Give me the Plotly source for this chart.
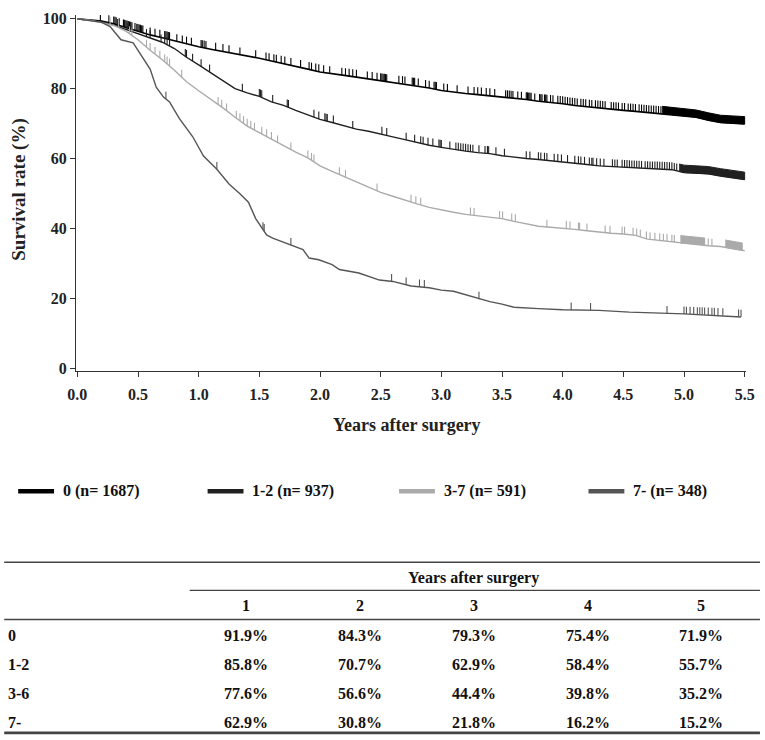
import numpy as np
import plotly.graph_objects as go

# ---------------- data ----------------
group_names = ["0 (n= 1687)", "1-2 (n= 937)", "3-7 (n= 591)", "7- (n= 348)"]
group_colors = ["#000000", "#202020", "#aaaaaa", "#555555"]

t0 = [0, 0.1, 0.2, 0.3, 0.4, 0.5, 0.6, 0.7, 0.8, 0.9, 1.0, 1.1, 1.2, 1.3, 1.4, 1.5, 1.6, 1.7, 1.8, 1.9,
      2.0, 2.1, 2.2, 2.3, 2.4, 2.5, 2.6, 2.7, 2.8, 2.9, 3.0, 3.1, 3.2, 3.3, 3.4, 3.5, 3.6, 3.7, 3.8, 3.9,
      4.0, 4.1, 4.2, 4.3, 4.4, 4.5, 4.6, 4.7, 4.8, 4.9, 5.0, 5.1, 5.2, 5.3, 5.4, 5.5]
s0 = [100, 99.8, 99.4, 98.6, 97.5, 96.4, 95.4, 94.6, 93.7, 92.8, 92.0, 91.3, 90.7, 90.0, 89.3, 88.7, 87.9,
      87.2, 86.4, 85.6, 84.8, 84.2, 83.8, 83.3, 82.8, 82.3, 81.8, 81.4, 80.9, 80.2, 79.5, 79.0, 78.6, 78.3,
      78.0, 77.6, 77.2, 76.9, 76.4, 76.1, 75.7, 75.2, 74.8, 74.5, 74.1, 73.8, 73.5, 73.2, 72.9, 72.6, 72.2,
      71.8, 71.0, 70.3, 70.1, 69.9]

t1 = t0
s1 = [100, 99.7, 99.2, 98.2, 97.0, 95.8, 94.6, 93.3, 91.5, 89.0, 86.8, 84.6, 82.3, 80.0, 78.8, 77.8, 76.2,
      75.2, 73.8, 72.6, 71.2, 70.3, 69.3, 68.4, 67.8, 67.1, 66.2, 65.4, 64.5, 63.8, 63.2, 62.6, 62.1, 61.7,
      61.4, 60.8, 60.3, 60.0, 59.7, 59.4, 59.0, 58.7, 58.3, 57.9, 57.7, 57.5, 57.3, 57.1, 57.0, 56.8, 56.0,
      55.8, 55.6, 55.0, 54.5, 54.0]

t2 = t0
s2 = [100, 99.6, 98.9, 98.1, 96.5, 94.0, 91.0, 88.3, 85.3, 82.0, 79.4, 77.0, 74.5, 71.8, 69.3, 67.4, 65.5,
      63.5, 61.8, 60.2, 57.9, 56.3, 54.8, 53.3, 51.8, 50.3, 49.2, 48.0, 47.0, 46.0, 45.2, 44.6, 44.0, 43.6,
      43.2, 42.8, 42.0, 41.2, 40.6, 40.3, 40.1, 39.7, 39.3, 38.9, 38.6, 38.4, 38.0, 36.9, 36.5, 36.1, 35.7,
      35.5, 35.0, 34.8, 34.2, 33.6]

t3 = [0, 0.1, 0.2, 0.27, 0.36, 0.46, 0.52, 0.6, 0.65, 0.71, 0.76, 0.84, 0.95, 1.04, 1.15, 1.25, 1.34, 1.41,
      1.47, 1.56, 1.61, 1.75, 1.86, 1.91, 1.99, 2.1, 2.16, 2.32, 2.43, 2.49, 2.6, 2.75, 2.9, 3.0, 3.1, 3.2,
      3.3, 3.4, 3.5, 3.6, 3.8, 4.0, 4.3, 4.55, 5.0, 5.34, 5.47]
s3 = [100, 99.6, 99.0, 97.8, 94.0, 93.1, 89.8, 85.6, 80.4, 77.6, 76.2, 71.5, 66.3, 60.7, 56.9, 52.7, 49.9,
      47.5, 42.8, 38.1, 37.2, 35.3, 33.9, 31.5, 31.0, 29.6, 28.2, 27.2, 25.9, 25.2, 24.8, 23.5, 23.0, 22.3,
      22.0, 21.0, 19.8, 19.0, 18.3, 17.4, 17.0, 16.7, 16.5, 16.0, 15.5, 15.0, 14.6]

# censoring times
c0 = [0.19, 0.26, 0.30, 0.31, 0.32, 0.345, 0.38, 0.39, 0.40, 0.41, 0.42, 0.43, 0.44, 0.45, 0.475, 0.49, 0.50,
      0.51, 0.52, 0.53, 0.54, 0.60, 0.64, 0.68, 0.72, 0.73, 0.74, 0.75, 0.76, 0.82, 0.865, 0.90, 0.94, 1.02,
      1.03, 1.045, 1.06, 1.14, 1.20, 1.25, 1.34, 1.47, 1.555, 1.58, 1.62, 1.64, 1.68, 1.71, 1.76, 1.84, 1.91,
      1.93, 1.965, 1.99, 2.03, 2.08, 2.18, 2.21, 2.24, 2.27, 2.30, 2.39, 2.43, 2.47, 2.50, 2.51, 2.52, 2.53,
      2.54, 2.55, 2.65, 2.68, 2.70, 2.76, 2.77, 2.78, 2.81, 2.87, 2.90, 2.94, 2.95, 2.96, 3.02, 3.05, 3.13,
      3.22, 3.27, 3.30, 3.33, 3.37, 3.40, 3.44, 3.53, 3.545, 3.56, 3.575, 3.59, 3.63, 3.66, 3.70, 3.71, 3.72,
      3.73, 3.74, 3.77, 3.81, 3.82, 3.83, 3.85, 3.86, 3.87, 3.90, 3.92, 3.96, 3.98, 4.00, 4.02, 4.04, 4.06,
      4.08, 4.10, 4.12, 4.15, 4.17, 4.19, 4.22, 4.24, 4.27, 4.29, 4.31, 4.33, 4.35, 4.40, 4.42, 4.44, 4.46,
      4.49, 4.51, 4.54, 4.56, 4.58, 4.60, 4.63, 4.65, 4.67, 4.69, 4.71, 4.73, 4.75, 4.77, 4.79, 4.81]
c1 = [0.33, 0.41, 0.57, 0.60, 0.69, 0.72, 0.74, 0.76, 0.89, 0.90, 0.95, 1.02, 1.09, 1.36, 1.50, 1.51, 1.52,
      1.61, 1.73, 1.74, 1.95, 1.99, 2.04, 2.05, 2.06, 2.11, 2.27, 2.51, 2.55, 2.71, 2.78, 2.83, 2.85, 2.89,
      2.93, 2.98, 2.99, 3.00, 3.07, 3.12, 3.14, 3.16, 3.18, 3.20, 3.22, 3.24, 3.26, 3.31, 3.36, 3.38, 3.39,
      3.45, 3.52, 3.70, 3.73, 3.80, 3.82, 3.85, 3.87, 3.93, 3.96, 3.99, 4.04, 4.10, 4.13, 4.15, 4.18, 4.22,
      4.24, 4.25, 4.28, 4.31, 4.34, 4.41, 4.43, 4.45, 4.49, 4.51, 4.53, 4.55, 4.57, 4.59, 4.61, 4.63, 4.65,
      4.68, 4.70, 4.72, 4.74, 4.76, 4.78, 4.80, 4.82, 4.84, 4.86, 4.88, 4.90, 4.92, 4.94]
c2 = [0.27, 0.34, 0.43, 0.45, 0.57, 0.60, 0.64, 0.68, 0.72, 0.74, 0.76, 0.86, 1.16, 1.19, 1.23, 1.31, 1.34,
      1.37, 1.40, 1.43, 1.46, 1.52, 1.56, 1.60, 1.65, 1.76, 1.90, 1.93, 1.95, 2.16, 2.21, 2.47, 2.75, 2.79,
      2.83, 3.24, 3.27, 3.48, 3.505, 3.58, 3.61, 3.87, 4.03, 4.06, 4.13, 4.14, 4.20, 4.35, 4.39, 4.49, 4.51,
      4.58, 4.61, 4.64, 4.69, 4.72, 4.76, 4.80, 4.83, 4.86, 4.90, 4.92, 5.20, 5.23]
c3 = [0.73, 1.15, 1.53, 1.54, 1.76, 2.59, 2.71, 2.82, 2.86, 3.31, 4.07, 4.23, 4.86, 5.00, 5.02, 5.05, 5.08,
      5.11, 5.13, 5.15, 5.17, 5.20, 5.23, 5.25, 5.28, 5.32, 5.45, 5.47]

# intervals where censoring marks merge into a solid band
band0 = [(4.82, 5.5)]
band1 = [(4.96, 5.5)]
band2 = [(4.97, 5.17), (5.34, 5.48)]
band3 = []

# table
table_years = ["1", "2", "3", "4", "5"]
table_rows = ["0", "1-2", "3-6", "7-"]
table_vals = [["91.9%", "84.3%", "79.3%", "75.4%", "71.9%"],
              ["85.8%", "70.7%", "62.9%", "58.4%", "55.7%"],
              ["77.6%", "56.6%", "44.4%", "39.8%", "35.2%"],
              ["62.9%", "30.8%", "21.8%", "16.2%", "15.2%"]]

x_ticks = [0, 0.5, 1.0, 1.5, 2.0, 2.5, 3.0, 3.5, 4.0, 4.5, 5.0, 5.5]
y_ticks = [0, 20, 40, 60, 80, 100]

# ---------------- layout geometry ----------------
W, H = 765, 740
L, R, T, B = 76, 17, 10, 369
PW = W - L - R
PH = H - T - B
TICK_H = 2.1
SERIF = "Liberation Serif, Times New Roman, serif"


def px(xp):
    return (xp - L) / PW


def py(yp):
    return (T + PH - yp) / PH


fig = go.Figure()

groups = [(t0, s0, c0, band0), (t1, s1, c1, band1), (t2, s2, c2, band2), (t3, s3, c3, band3)]
widths = [1.6, 1.4, 1.4, 1.4]
for (t, s, c, bands), col, w, name in zip(groups, group_colors, widths, group_names):
    fig.add_trace(go.Scatter(x=t, y=s, mode="lines", line=dict(color=col, width=w), name=name,
                             showlegend=False, hoverinfo="skip"))
    cv = np.interp(c, t, s)
    xs, ys = [], []
    for ci, vi in zip(c, cv):
        xs += [ci, ci, None]
        ys += [vi, vi + TICK_H, None]
    fig.add_trace(go.Scatter(x=xs, y=ys, mode="lines", line=dict(color=col, width=1.1),
                             showlegend=False, hoverinfo="skip"))
    for a, b in bands:
        bx = [a] + [ti for ti in t if a < ti < b] + [b]
        by = np.interp(bx, t, s)
        xp = bx + bx[::-1]
        yp = list(by + TICK_H) + list(by[::-1])
        fig.add_trace(go.Scatter(x=xp, y=yp, mode="lines", fill="toself", fillcolor=col,
                                 line=dict(color=col, width=1), showlegend=False, hoverinfo="skip"))

axis_common = dict(showline=True, linecolor="#333333", linewidth=1, ticks="outside", ticklen=5,
                   tickcolor="#333333", showgrid=False, zeroline=False,
                   tickfont=dict(family=SERIF, size=16, color="#222222", weight="bold"))
fig.update_xaxes(range=[-0.011, 5.511], tickvals=x_ticks, ticktext=[f"{v:.1f}" for v in x_ticks],
                 ticklabelstandoff=4, **axis_common)
fig.update_yaxes(range=[-0.85, 101.1], tickvals=y_ticks, **axis_common)

annotations = [
    dict(text="Years after surgery", x=px(408), y=py(426), xref="paper", yref="paper",
         showarrow=False, xanchor="center", yanchor="middle",
         font=dict(family=SERIF, size=18, color="#222222", weight="bold")),
    dict(text="Survival rate (%)", x=px(18), y=py(187), xref="paper", yref="paper", textangle=-90,
         showarrow=False, xanchor="center", yanchor="middle",
         font=dict(family=SERIF, size=19, color="#222222", weight="bold")),
]
shapes = []

# legend (drawn manually to match the original's spacing)
lfont = dict(family=SERIF, size=16, color="#111111", weight="bold")
leg_x = [18, 208, 400, 590]
LEG_Y = 493
for name, col, lx in zip(group_names, group_colors, leg_x):
    shapes.append(dict(type="line", xref="paper", yref="paper", x0=px(lx), x1=px(lx + 36),
                       y0=py(LEG_Y), y1=py(LEG_Y), line=dict(color=col, width=4.5)))
    annotations.append(dict(text=name, x=px(lx + 43), y=py(LEG_Y), xref="paper", yref="paper",
                            showarrow=False, xanchor="left", yanchor="middle", font=lfont))

tfont = dict(family=SERIF, size=16, color="#111111", weight="bold")
col_x = [247, 361, 475, 590, 703]
row_y = [639, 669, 698, 727]
annotations.append(dict(text="Years after surgery", x=px(475), y=py(581), xref="paper", yref="paper",
                        showarrow=False, xanchor="center", yanchor="middle", font=tfont))
for yr, cx in zip(table_years, col_x):
    annotations.append(dict(text=yr, x=px(cx), y=py(609), xref="paper", yref="paper",
                            showarrow=False, xanchor="center", yanchor="middle", font=tfont))
for lab, ry, vals in zip(table_rows, row_y, table_vals):
    annotations.append(dict(text=lab, x=px(6), y=py(ry), xref="paper", yref="paper",
                            showarrow=False, xanchor="left", yanchor="middle", font=tfont))
    for v, cx in zip(vals, col_x):
        annotations.append(dict(text=v, x=px(cx), y=py(ry), xref="paper", yref="paper",
                                showarrow=False, xanchor="center", yanchor="middle", font=tfont))

for x0p, x1p, yp, lw in [(4, 762, 565, 1.4), (190, 762, 593.5, 1.4), (4, 762, 623, 1.4),
                         (4, 762, 738, 2.6)]:
    shapes.append(dict(type="line", xref="paper", yref="paper", x0=px(x0p), x1=px(x1p),
                       y0=py(yp), y1=py(yp), line=dict(color="#444444", width=lw)))

fig.update_layout(
    width=W, height=H, margin=dict(l=L, r=R, t=T, b=B),
    plot_bgcolor="white", paper_bgcolor="white",
    annotations=annotations, shapes=shapes,
    showlegend=False,
)

fig.write_html("out.html", config={"displayModeBar": False},
               post_script="document.body.style.margin='0';")
